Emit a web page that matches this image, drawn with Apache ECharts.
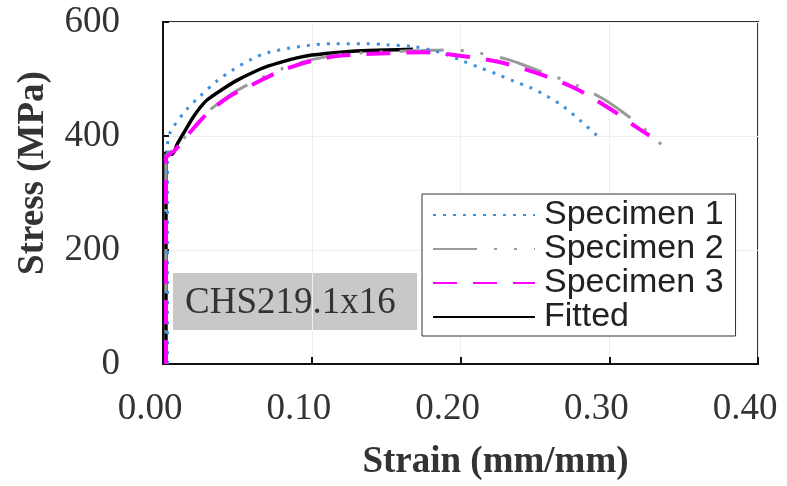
<!DOCTYPE html>
<html>
<head>
<meta charset="utf-8">
<script src="https://cdn.jsdelivr.net/npm/echarts@6/dist/echarts.min.js"></script>
<style>
  html, body { margin: 0; padding: 0; background: #fff; }
  #chart { width: 787px; height: 486px; }
</style>
</head>
<body>
<div id="chart"></div>
<script>
// Strain (mm/mm), stress (MPa) pairs
const specimen1 = [
  [0.003, 0], [0.003, 380], [0.005, 407], [0.016, 447], [0.025, 470], [0.036, 496],
  [0.047, 516], [0.059, 534], [0.070, 546], [0.092, 557], [0.115, 562], [0.137, 562],
  [0.150, 560], [0.168, 557], [0.187, 546], [0.202, 531], [0.213, 520], [0.225, 508],
  [0.236, 496], [0.247, 485], [0.258, 470], [0.269, 452], [0.281, 426], [0.292, 400]
];
const specimen2 = [
  [0.002, 0], [0.002, 365], [0.008, 378], [0.016, 402], [0.030, 442], [0.045, 472],
  [0.060, 494], [0.080, 518], [0.100, 534], [0.120, 543], [0.150, 548], [0.175, 550],
  [0.191, 551], [0.207, 548], [0.232, 534], [0.245, 522], [0.259, 508], [0.272, 496],
  [0.294, 468], [0.308, 444], [0.326, 407], [0.337, 380]
];
const specimen3 = [
  [0.002, 0], [0.002, 360], [0.008, 375], [0.016, 400], [0.030, 440], [0.045, 470],
  [0.060, 490], [0.080, 515], [0.100, 532], [0.120, 541], [0.150, 545], [0.175, 547],
  [0.202, 540], [0.229, 528], [0.254, 508], [0.276, 485], [0.301, 447], [0.318, 416],
  [0.327, 401]
];
const fitted = [
  [0.002, 0], [0.002, 372], [0.006, 368], [0.010, 388], [0.015, 410], [0.020, 432],
  [0.025, 450], [0.030, 464], [0.040, 482], [0.050, 498], [0.060, 511], [0.070, 522],
  [0.080, 530], [0.090, 537], [0.100, 542], [0.115, 546], [0.130, 549], [0.150, 551],
  [0.168, 552]
];

const seriesNames = ['Specimen 1', 'Specimen 2', 'Specimen 3', 'Fitted'];
const specimenLabel = 'CHS219.1x16';

const SERIF = '"Liberation Serif", "Times New Roman", serif';
const SANS = '"Liberation Sans", Arial, sans-serif';

const chart = echarts.init(document.getElementById('chart'), null, { renderer: 'canvas' });

const lineSeries = (name, data, lineStyle, z) => ({
  name: name,
  type: 'line',
  data: data,
  showSymbol: false,
  symbol: 'none',
  smooth: 0.3,
  z: z,
  lineStyle: lineStyle,
  itemStyle: { color: lineStyle.color }
});

// legend entries; Specimen 2 keeps the dash first in its sample
const legendData = seriesNames.map(n =>
  n === 'Specimen 2' ? { name: n, lineStyle: { dashOffset: 0 } } : { name: n }
);

chart.setOption({
  animation: false,
  backgroundColor: '#fff',
  grid: {
    left: 163, right: 29, top: 22, bottom: 119,
    show: true, borderColor: '#333', borderWidth: 2
  },
  xAxis: {
    type: 'value',
    min: 0, max: 0.4, interval: 0.1,
    name: 'Strain (mm/mm)',
    nameLocation: 'middle',
    nameGap: 80,
    nameTextStyle: {
      fontFamily: SERIF, fontWeight: 'bold', fontSize: 37, color: '#333',
      padding: [0, 0, 0, 70]
    },
    axisLine: { lineStyle: { color: '#111', width: 2 } },
    axisTick: { inside: true, length: 7, lineStyle: { color: '#111', width: 2 } },
    axisLabel: {
      fontFamily: SERIF, fontSize: 37, color: '#333', margin: 27,
      padding: [0, 26, 0, 0],
      formatter: v => v.toFixed(2)
    },
    splitLine: { show: true, lineStyle: { color: '#eeeeee', width: 1 } }
  },
  yAxis: {
    type: 'value',
    min: 0, max: 600, interval: 200,
    name: 'Stress (MPa)',
    nameLocation: 'middle',
    nameGap: 111,
    nameTextStyle: {
      fontFamily: SERIF, fontWeight: 'bold', fontSize: 37, color: '#333',
      padding: [0, 0, 0, 40]
    },
    axisLine: { show: true, lineStyle: { color: '#111', width: 2 } },
    axisTick: { show: true, inside: true, length: 6, lineStyle: { color: '#111', width: 2 } },
    axisLabel: { fontFamily: SERIF, fontSize: 37, color: '#333', margin: 43 },
    splitLine: { show: true, lineStyle: { color: '#eeeeee', width: 1 } }
  },
  legend: {
    data: legendData,
    orient: 'vertical',
    left: 422, top: 194,
    itemWidth: 102, itemHeight: 14, itemGap: 0,
    padding: [4, 12, 2, 10],
    borderColor: '#333', borderWidth: 1,
    backgroundColor: '#fff',
    itemStyle: { opacity: 0 },
    textStyle: {
      fontFamily: SANS, fontSize: 34, lineHeight: 33, color: '#222',
      padding: [0, 0, 0, 4]
    }
  },
  graphic: [{
    type: 'group',
    left: 173, top: 273,
    children: [
      { type: 'rect', shape: { x: 0, y: 0, width: 244, height: 57 }, style: { fill: '#c8c8c8' } },
      {
        type: 'text', x: 12, y: 30,
        style: {
          text: specimenLabel, fontFamily: SERIF, fontSize: 37, fill: '#333',
          verticalAlign: 'middle'
        }
      }
    ]
  }],
  series: [
    lineSeries('Specimen 1', specimen1, { color: '#3d8fdc', width: 3, type: [3, 7] }, 3),
    lineSeries('Specimen 2', specimen2, { color: '#9a9a9a', width: 3, type: [44, 17, 3, 17, 3, 17], dashOffset: 30 }, 2),
    lineSeries('Specimen 3', specimen3, { color: '#ff00ff', width: 4, type: [24, 16] }, 4),
    lineSeries('Fitted', fitted, { color: '#000000', width: 3.5, type: 'solid' }, 1)
  ]
});
</script>
</body>
</html>
